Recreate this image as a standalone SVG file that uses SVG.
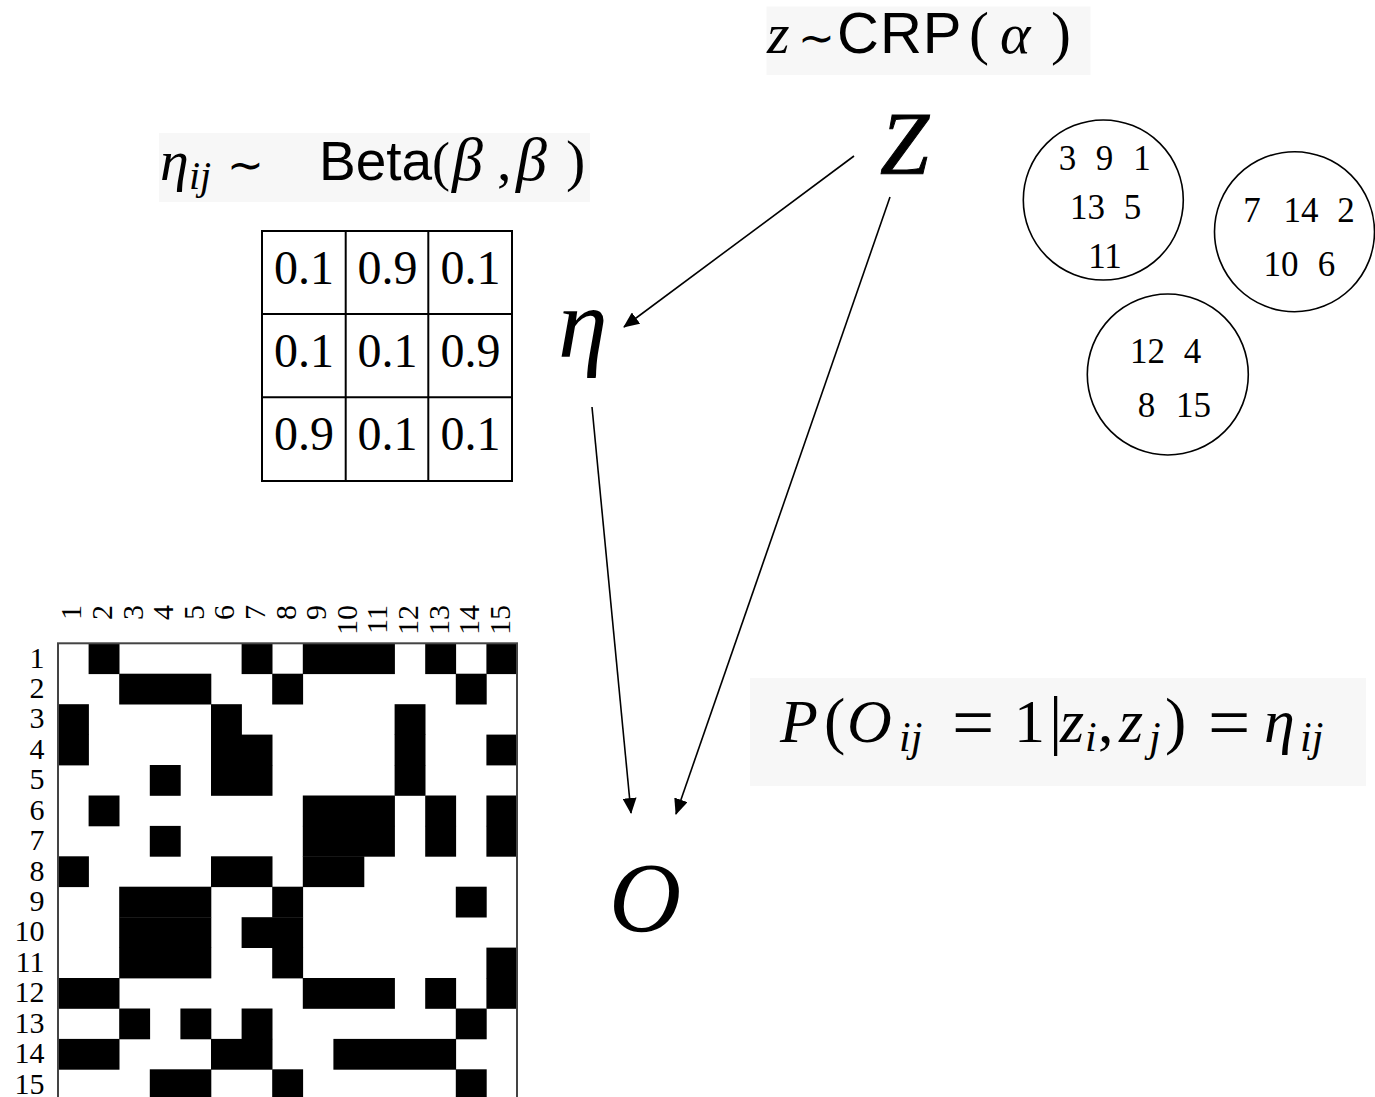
<svg xmlns="http://www.w3.org/2000/svg" width="1375" height="1097" viewBox="0 0 1375 1097">
<style>
.serif{font-family:"Liberation Serif","Times New Roman",serif;fill:#000}
.it{font-style:italic}
.sans{font-family:"Liberation Sans",Arial,sans-serif}
.sym{font-family:"DejaVu Sans",sans-serif}
.eqbox{fill:#f7f7f7}
.k{fill:#000}
.edge{stroke:#000;stroke-width:1.6;fill:none;marker-end:url(#ah)}
.cluster{fill:none;stroke:#000;stroke-width:1.6}
.tbl{fill:none;stroke:#000;stroke-width:2}
.lbl{font-size:30px}
.cnum{font-size:35px}
.tnum{font-size:48px}
</style>
<defs>
<marker id="ah" viewBox="0 0 16 14" refX="15" refY="7" markerWidth="16" markerHeight="14" markerUnits="userSpaceOnUse" orient="auto">
<path d="M0,0 L16,7 L0,14 z" fill="#000"/>
</marker>
</defs>
<rect width="1375" height="1097" fill="#fff"/>

<g id="label-crp">
<rect class="eqbox" x="766.5" y="6.5" width="324" height="68.5"/>
<text class="serif" y="53.3" font-size="58"><tspan class="it" x="767">z</tspan><tspan class="sym" x="798" font-size="44">∼</tspan><tspan class="sans" x="837" font-size="58" letter-spacing="1">CRP</tspan><tspan x="969" font-size="60">(</tspan><tspan class="it" x="1000" font-size="58">α</tspan><tspan x="1051" font-size="60">)</tspan></text>
</g>

<g id="label-beta">
<rect class="eqbox" x="159" y="133" width="431" height="69"/>
<text class="serif" y="180" font-size="58"><tspan class="it" x="160">η</tspan><tspan class="it" x="189" y="189" font-size="40">ij</tspan><tspan class="sym" x="227" y="180" font-size="44">∼</tspan><tspan class="sans" x="319" font-size="55">Beta</tspan><tspan x="432" font-size="54">(</tspan><tspan class="it" x="452" font-size="62">β</tspan><tspan x="497">,</tspan><tspan class="it" x="516" font-size="62">β</tspan><tspan x="566" font-size="58">)</tspan></text>
</g>

<g id="label-likelihood">
<rect class="eqbox" x="750" y="678" width="616" height="108"/>
<text class="serif" y="742" font-size="62"><tspan class="it" x="780">P</tspan><tspan x="824" font-size="64">(</tspan><tspan class="it" x="847">O</tspan><tspan class="it" x="899" y="751" font-size="42">ij</tspan><tspan x="952" y="746.5" font-size="75">=</tspan><tspan x="1014" y="742">1</tspan><tspan x="1049" font-size="66">|</tspan><tspan class="it" x="1060">z</tspan><tspan class="it" x="1085" y="751" font-size="42">i</tspan><tspan x="1098" y="742">,</tspan><tspan class="it" x="1119">z</tspan><tspan class="it" x="1149" y="751" font-size="42">j</tspan><tspan x="1165" y="742" font-size="64">)</tspan><tspan x="1208" y="746.5" font-size="75">=</tspan><tspan class="it" x="1264" y="742">η</tspan><tspan class="it" x="1300" y="751" font-size="42">ij</tspan></text>
</g>

<g id="node-z"><text class="serif it" x="880" y="173" font-size="88" stroke="#000" stroke-width="1">Z</text></g>
<g id="node-eta"><text class="serif it" x="558" y="357" font-size="100">η</text></g>
<g id="node-o"><text class="serif it" x="609" y="931" font-size="100">O</text></g>

<g id="connectors">
<line class="edge" x1="854" y1="156" x2="624" y2="327"/>
<line class="edge" x1="890" y1="197" x2="676" y2="814"/>
<line class="edge" x1="592" y1="407" x2="631" y2="813"/>
</g>

<g id="eta-table">
<rect class="tbl" x="262" y="231" width="250" height="250"/>
<line class="tbl" x1="345.7" y1="231" x2="345.7" y2="481"/>
<line class="tbl" x1="428.3" y1="231" x2="428.3" y2="481"/>
<line class="tbl" x1="262" y1="314" x2="512" y2="314"/>
<line class="tbl" x1="262" y1="397.3" x2="512" y2="397.3"/>
<text class="serif tnum" y="284"><tspan x="274">0.1</tspan><tspan x="357.5">0.9</tspan><tspan x="440.5">0.1</tspan></text>
<text class="serif tnum" y="367.3"><tspan x="274">0.1</tspan><tspan x="357.5">0.1</tspan><tspan x="440.5">0.9</tspan></text>
<text class="serif tnum" y="450"><tspan x="274">0.9</tspan><tspan x="357.5">0.1</tspan><tspan x="440.5">0.1</tspan></text>
</g>

<g id="clusters">
<g id="cluster-1">
<circle class="cluster" cx="1103.3" cy="200" r="80"/>
<text class="serif cnum" text-anchor="middle" y="170"><tspan x="1067.5">3</tspan><tspan x="1104.5">9</tspan><tspan x="1142">1</tspan></text>
<text class="serif cnum" text-anchor="middle" y="219"><tspan x="1087.5">13</tspan><tspan x="1132.5">5</tspan></text>
<text class="serif cnum" text-anchor="middle" y="268" x="1105">11</text>
</g>
<g id="cluster-2">
<circle class="cluster" cx="1294.5" cy="231.7" r="80"/>
<text class="serif cnum" text-anchor="middle" y="221.5"><tspan x="1252">7</tspan><tspan x="1301">14</tspan><tspan x="1346">2</tspan></text>
<text class="serif cnum" text-anchor="middle" y="276"><tspan x="1281">10</tspan><tspan x="1326.5">6</tspan></text>
</g>
<g id="cluster-3">
<circle class="cluster" cx="1167.8" cy="374.5" r="80.5"/>
<text class="serif cnum" text-anchor="middle" y="362.5"><tspan x="1147.5">12</tspan><tspan x="1192.5">4</tspan></text>
<text class="serif cnum" text-anchor="middle" y="416.5"><tspan x="1146.5">8</tspan><tspan x="1193.5">15</tspan></text>
</g>
</g>

<g id="adjacency-matrix">
<rect x="58" y="643.3" width="459" height="470" fill="#fff"/>
<g id="cells">
<rect class="k" x="88.6" y="643.3" width="30.9" height="30.8"/>
<rect class="k" x="241.6" y="643.3" width="30.9" height="30.8"/>
<rect class="k" x="302.8" y="643.3" width="92.1" height="30.8"/>
<rect class="k" x="425.2" y="643.3" width="30.9" height="30.8"/>
<rect class="k" x="486.4" y="643.3" width="30.9" height="30.8"/>

<rect class="k" x="119.2" y="673.7" width="92.1" height="30.8"/>
<rect class="k" x="272.2" y="673.7" width="30.9" height="30.8"/>
<rect class="k" x="455.8" y="673.7" width="30.9" height="30.8"/>

<rect class="k" x="58" y="704.2" width="30.9" height="30.8"/>
<rect class="k" x="211" y="704.2" width="30.9" height="30.8"/>
<rect class="k" x="394.6" y="704.2" width="30.9" height="30.8"/>

<rect class="k" x="58" y="734.6" width="30.9" height="30.8"/>
<rect class="k" x="211" y="734.6" width="61.5" height="30.8"/>
<rect class="k" x="394.6" y="734.6" width="30.9" height="30.8"/>
<rect class="k" x="486.4" y="734.6" width="30.9" height="30.8"/>

<rect class="k" x="149.8" y="765" width="30.9" height="30.8"/>
<rect class="k" x="211" y="765" width="61.5" height="30.8"/>
<rect class="k" x="394.6" y="765" width="30.9" height="30.8"/>

<rect class="k" x="88.6" y="795.5" width="30.9" height="30.8"/>
<rect class="k" x="302.8" y="795.5" width="92.1" height="30.8"/>
<rect class="k" x="425.2" y="795.5" width="30.9" height="30.8"/>
<rect class="k" x="486.4" y="795.5" width="30.9" height="30.8"/>

<rect class="k" x="149.8" y="825.9" width="30.9" height="30.8"/>
<rect class="k" x="302.8" y="825.9" width="92.1" height="30.8"/>
<rect class="k" x="425.2" y="825.9" width="30.9" height="30.8"/>
<rect class="k" x="486.4" y="825.9" width="30.9" height="30.8"/>

<rect class="k" x="58" y="856.3" width="30.9" height="30.8"/>
<rect class="k" x="211" y="856.3" width="61.5" height="30.8"/>
<rect class="k" x="302.8" y="856.3" width="61.5" height="30.8"/>

<rect class="k" x="119.2" y="886.7" width="92.1" height="30.8"/>
<rect class="k" x="272.2" y="886.7" width="30.9" height="30.8"/>
<rect class="k" x="455.8" y="886.7" width="30.9" height="30.8"/>

<rect class="k" x="119.2" y="917.2" width="92.1" height="30.8"/>
<rect class="k" x="241.6" y="917.2" width="61.5" height="30.8"/>

<rect class="k" x="119.2" y="947.6" width="92.1" height="30.8"/>
<rect class="k" x="272.2" y="947.6" width="30.9" height="30.8"/>
<rect class="k" x="486.4" y="947.6" width="30.9" height="30.8"/>

<rect class="k" x="58" y="978" width="61.5" height="30.8"/>
<rect class="k" x="302.8" y="978" width="92.1" height="30.8"/>
<rect class="k" x="425.2" y="978" width="30.9" height="30.8"/>
<rect class="k" x="486.4" y="978" width="30.9" height="30.8"/>

<rect class="k" x="119.2" y="1008.5" width="30.9" height="30.8"/>
<rect class="k" x="180.4" y="1008.5" width="30.9" height="30.8"/>
<rect class="k" x="241.6" y="1008.5" width="30.9" height="30.8"/>
<rect class="k" x="455.8" y="1008.5" width="30.9" height="30.8"/>

<rect class="k" x="58" y="1038.9" width="61.5" height="30.8"/>
<rect class="k" x="211" y="1038.9" width="61.5" height="30.8"/>
<rect class="k" x="333.4" y="1038.9" width="122.7" height="30.8"/>

<rect class="k" x="149.8" y="1069.3" width="61.5" height="30.8"/>
<rect class="k" x="272.2" y="1069.3" width="30.9" height="30.8"/>
<rect class="k" x="455.8" y="1069.3" width="30.9" height="30.8"/>
</g>
<rect x="58" y="643.3" width="459" height="470" fill="none" stroke="#444" stroke-width="2"/>
<g id="row-labels" class="serif lbl" text-anchor="end">
<text x="44.5" y="667.5">1</text>
<text x="44.5" y="697.9">2</text>
<text x="44.5" y="728.4">3</text>
<text x="44.5" y="758.8">4</text>
<text x="44.5" y="789.2">5</text>
<text x="44.5" y="819.7">6</text>
<text x="44.5" y="850.1">7</text>
<text x="44.5" y="880.5">8</text>
<text x="44.5" y="911">9</text>
<text x="44.5" y="941.4">10</text>
<text x="44.5" y="971.8">11</text>
<text x="44.5" y="1002.2">12</text>
<text x="44.5" y="1032.7">13</text>
<text x="44.5" y="1063.1">14</text>
<text x="44.5" y="1093.5">15</text>
</g>
<g id="col-labels" class="serif lbl" text-anchor="end">
<text transform="translate(81.3,605) rotate(-90)">1</text>
<text transform="translate(111.9,605) rotate(-90)">2</text>
<text transform="translate(142.5,605) rotate(-90)">3</text>
<text transform="translate(173.1,605) rotate(-90)">4</text>
<text transform="translate(203.7,605) rotate(-90)">5</text>
<text transform="translate(234.3,605) rotate(-90)">6</text>
<text transform="translate(264.9,605) rotate(-90)">7</text>
<text transform="translate(295.5,605) rotate(-90)">8</text>
<text transform="translate(326.1,605) rotate(-90)">9</text>
<text transform="translate(356.7,605) rotate(-90)">10</text>
<text transform="translate(387.3,605) rotate(-90)">11</text>
<text transform="translate(417.9,605) rotate(-90)">12</text>
<text transform="translate(448.5,605) rotate(-90)">13</text>
<text transform="translate(479.1,605) rotate(-90)">14</text>
<text transform="translate(509.7,605) rotate(-90)">15</text>
</g>
</g>
</svg>
